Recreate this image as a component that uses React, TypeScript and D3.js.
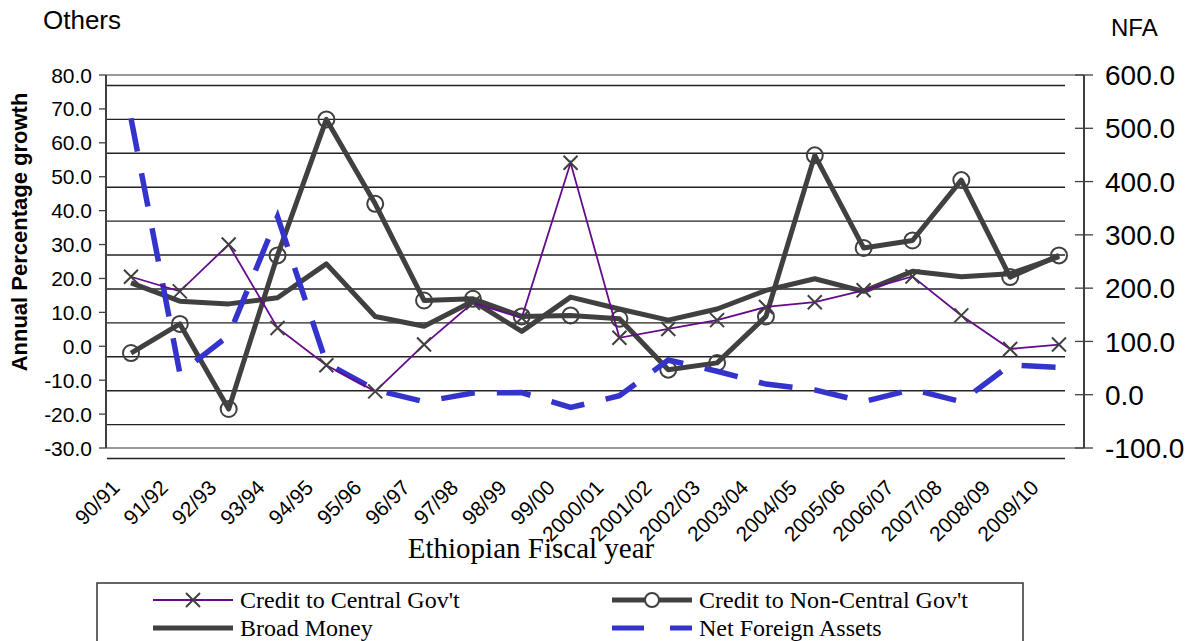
import * as d3 from "d3";

const YEARS = [
  "90/91", "91/92", "92/93", "93/94", "94/95", "95/96", "96/97", "97/98", "98/99", "99/00",
  "2000/01", "2001/02", "2002/03", "2003/04", "2004/05", "2005/06", "2006/07", "2007/08", "2008/09", "2009/10",
];
const CREDIT_CENTRAL = [20.5, 16.2, 30.0, 5.4, -5.6, -13.3, 0.5, 12.8, 8.4, 54.1, 2.5, 5.1, 7.7, 11.6, 13.0, 16.5, 20.6, 9.1, -0.8, 0.5];
const CREDIT_NON_CENTRAL = [-2.0, 6.6, -18.5, 26.8, 66.9, 42.0, 13.5, 14.0, 8.8, 9.1, 8.1, -6.9, -4.9, 8.8, 56.3, 29.0, 31.2, 49.0, 20.4, 26.8];
const BROAD_MONEY = [18.7, 13.3, 12.5, 14.3, 24.3, 8.8, 5.9, 13.3, 4.4, 14.5, 11.0, 7.7, 11.0, 16.5, 19.9, 16.2, 22.1, 20.5, 21.4, 26.4];
const NFA = [519, 40, 111, 334, 59, 9, -13, 3, 4, -24, -2, 65, 44, 20, 9, -13, 10, -13, 56, 51];

const LEFT_TICKS = [80, 70, 60, 50, 40, 30, 20, 10, 0, -10, -20, -30];
const RIGHT_TICKS = [600, 500, 400, 300, 200, 100, 0, -100];

const W = 1194;
const H = 641;
const PLOT = { left: 106, right: 1084, top: 75, bottom: 448 };
// the gridlines in the original sit ~10px below the axis ticks
const GRID_SHIFT = 10.5;

const GREY = "#404040";
const PURPLE = "#660a8c";
const BLUE = "#3434cc";
const SERIF = "'Liberation Serif', 'DejaVu Serif', serif";

const crossPath = (s: number) => `M${-s},${-s}L${s},${s}M${-s},${s}L${s},${-s}`;

export default function App() {
  const x = d3.scalePoint<string>().domain(YEARS).range([131, 1059]);
  // category labels are laid out on a slightly tighter pitch than the points
  const xLabel = d3.scalePoint<string>().domain(YEARS).range([121, 1040]);
  const yLeft = d3.scaleLinear().domain([-30, 80]).range([PLOT.bottom, PLOT.top]);
  const yRight = d3.scaleLinear().domain([-100, 600]).range([PLOT.bottom, PLOT.top]);

  const leftLine = d3
    .line<number>()
    .x((_, i) => x(YEARS[i]) ?? 0)
    .y((d) => yLeft(d));
  const rightLine = d3
    .line<number>()
    .x((_, i) => x(YEARS[i]) ?? 0)
    .y((d) => yRight(d));

  const legendRows = [
    { y: 600, col: 153, label: "Credit to Central Gov't", kind: "central" },
    { y: 600, col: 612, label: "Credit to Non-Central Gov't", kind: "noncentral" },
    { y: 628, col: 153, label: "Broad Money", kind: "broad" },
    { y: 628, col: 612, label: "Net Foreign Assets", kind: "nfa" },
  ];

  return (
    <svg
      width={W}
      height={H}
      style={{ position: "absolute", left: 0, top: 0, background: "#fff" }}
      fontFamily="Arial, 'Liberation Sans', sans-serif"
    >
      <rect width={W} height={H} fill="#fff" />

      <text x={43} y={29} fontSize={26}>Others</text>
      <text x={1111} y={36} fontSize={24}>NFA</text>

      {/* gridlines */}
      {LEFT_TICKS.map((t) => (
        <line
          key={t}
          x1={PLOT.left + 1}
          x2={1065}
          y1={yLeft(t) + GRID_SHIFT}
          y2={yLeft(t) + GRID_SHIFT}
          stroke="#222"
          strokeWidth={1.4}
        />
      ))}

      {/* frame */}
      <line x1={PLOT.left} x2={PLOT.right} y1={PLOT.top} y2={PLOT.top} stroke="#9a9a9a" strokeWidth={2} />
      <line x1={PLOT.left} x2={PLOT.right} y1={PLOT.bottom} y2={PLOT.bottom} stroke="#9a9a9a" strokeWidth={2} />
      <line x1={PLOT.left} x2={PLOT.left} y1={PLOT.top} y2={PLOT.bottom} stroke={GREY} strokeWidth={2} />
      <line x1={PLOT.right} x2={PLOT.right} y1={PLOT.top} y2={PLOT.bottom} stroke={GREY} strokeWidth={2} />

      {/* left axis */}
      {LEFT_TICKS.map((t) => (
        <g key={t}>
          <line x1={PLOT.left - 7} x2={PLOT.left} y1={yLeft(t)} y2={yLeft(t)} stroke={GREY} strokeWidth={1.3} />
          <text x={PLOT.left - 14} y={yLeft(t)} dy="0.36em" textAnchor="end" fontSize={21}>
            {t.toFixed(1)}
          </text>
        </g>
      ))}

      {/* right axis */}
      {RIGHT_TICKS.map((t) => (
        <g key={t}>
          <line x1={PLOT.right - 9} x2={PLOT.right + 9} y1={yRight(t)} y2={yRight(t)} stroke={GREY} strokeWidth={1.3} />
          <text x={PLOT.right + 21} y={yRight(t)} dy="0.36em" fontSize={28}>
            {t.toFixed(1)}
          </text>
        </g>
      ))}

      <text
        transform={`translate(27,${232}) rotate(-90)`}
        textAnchor="middle"
        fontSize={22}
        fontWeight="bold"
      >
        Annual Percentage growth
      </text>

      {/* x labels */}
      {YEARS.map((yr) => (
        <text
          key={yr}
          transform={`translate(${xLabel(yr) ?? 0},${489}) rotate(-45)`}
          textAnchor="end"
          fontSize={21}
        >
          {yr}
        </text>
      ))}
      <text x={531} y={558} textAnchor="middle" fontSize={29} fontFamily={SERIF}>
        Ethiopian Fiscal year
      </text>

      {/* series */}
      <path d={leftLine(BROAD_MONEY) ?? ""} fill="none" stroke={GREY} strokeWidth={5} strokeLinejoin="round" />
      <path d={leftLine(CREDIT_NON_CENTRAL) ?? ""} fill="none" stroke={GREY} strokeWidth={5} strokeLinejoin="round" />
      {CREDIT_NON_CENTRAL.map((d, i) => (
        <circle key={i} cx={x(YEARS[i])} cy={yLeft(d)} r={8} fill="none" stroke={GREY} strokeWidth={2} />
      ))}
      <path d={rightLine(NFA) ?? ""} fill="none" stroke={BLUE} strokeWidth={5.5} strokeDasharray="34 22" />
      <path d={leftLine(CREDIT_CENTRAL) ?? ""} fill="none" stroke={PURPLE} strokeWidth={1.8} />
      {CREDIT_CENTRAL.map((d, i) => (
        <path
          key={i}
          d={crossPath(7)}
          transform={`translate(${x(YEARS[i])},${yLeft(d)})`}
          stroke={GREY}
          strokeWidth={2}
          fill="none"
        />
      ))}

      {/* legend */}
      <rect x={97} y={583} width={926} height={70} fill="#fff" stroke="#333" strokeWidth={1.5} />
      {legendRows.map((r) => (
        <g key={r.label}>
          {r.kind === "central" && (
            <g>
              <line x1={r.col} x2={r.col + 80} y1={r.y} y2={r.y} stroke={PURPLE} strokeWidth={2} />
              <path d={crossPath(7)} transform={`translate(${r.col + 40},${r.y})`} stroke={GREY} strokeWidth={2} />
            </g>
          )}
          {r.kind === "noncentral" && (
            <g>
              <line x1={r.col} x2={r.col + 80} y1={r.y} y2={r.y} stroke={GREY} strokeWidth={5} />
              <circle cx={r.col + 40} cy={r.y} r={7} fill="#fff" stroke={GREY} strokeWidth={2} />
            </g>
          )}
          {r.kind === "broad" && (
            <line x1={r.col} x2={r.col + 80} y1={r.y} y2={r.y} stroke={GREY} strokeWidth={5} />
          )}
          {r.kind === "nfa" && (
            <line x1={r.col} x2={r.col + 80} y1={r.y} y2={r.y} stroke={BLUE} strokeWidth={5} strokeDasharray="32 26" />
          )}
          <text x={r.col + 87} y={r.y} dy="0.35em" fontSize={24} fontFamily={SERIF}>
            {r.label}
          </text>
        </g>
      ))}
    </svg>
  );
}
